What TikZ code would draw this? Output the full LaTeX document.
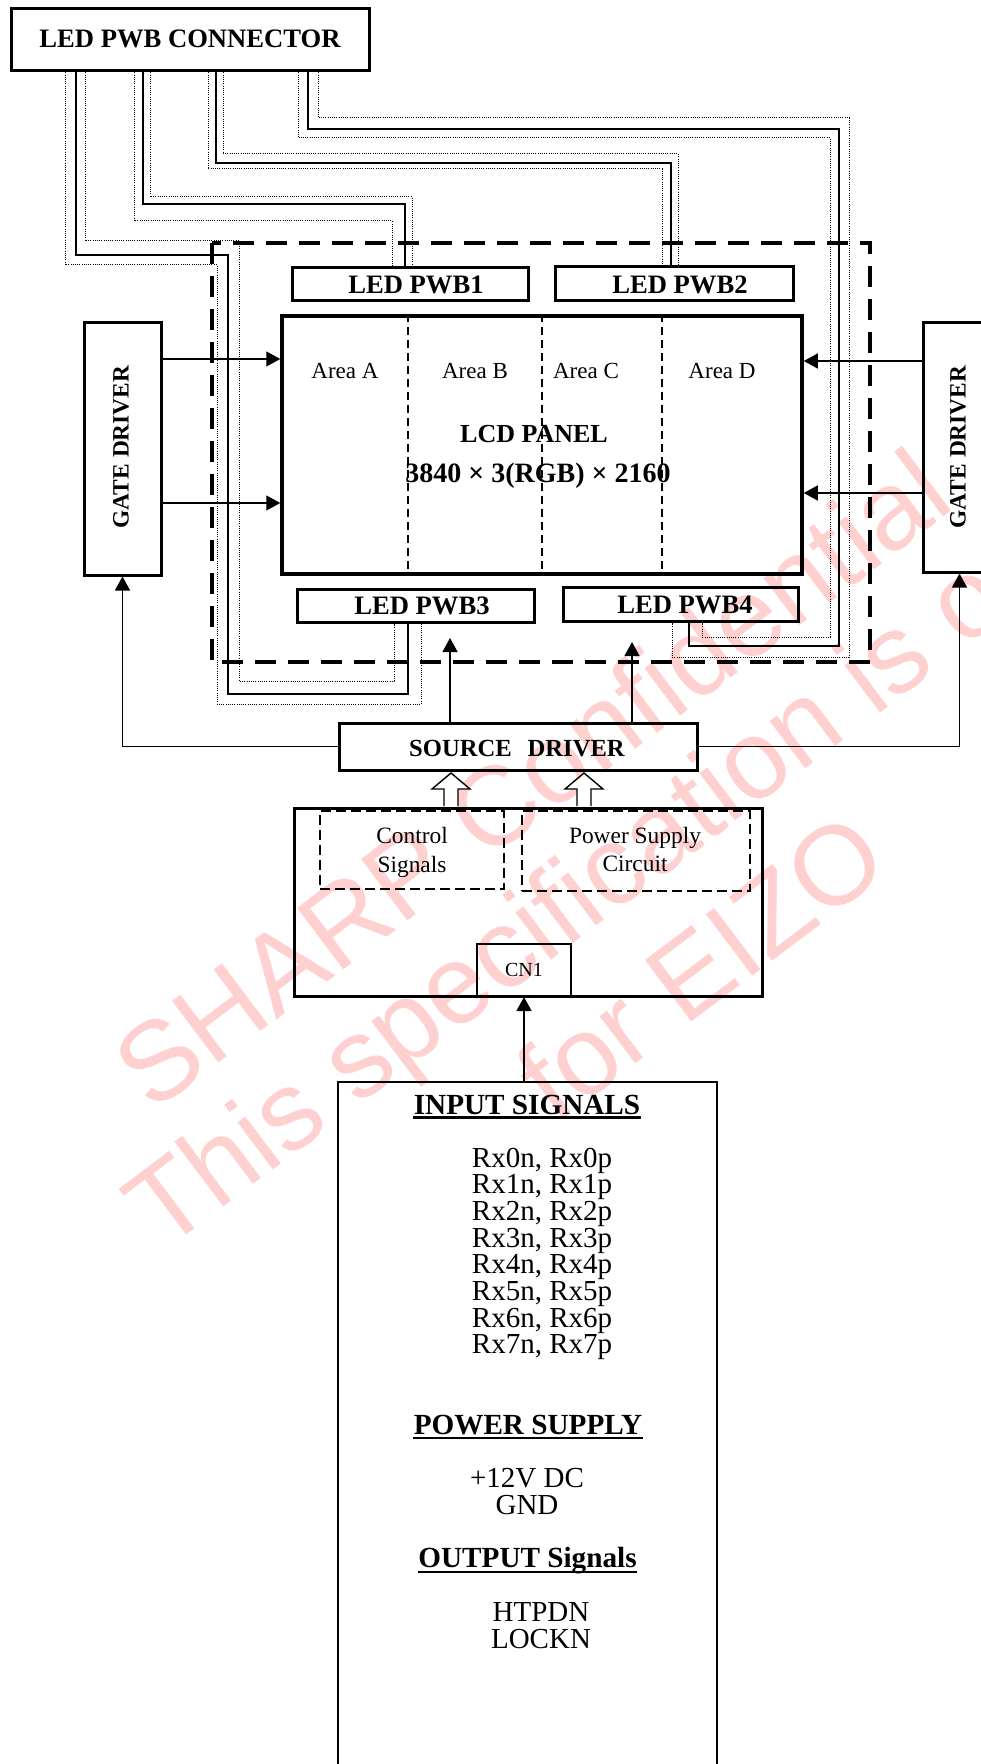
\documentclass[tikz,border=0pt]{standalone}
\usepackage{fontspec}
\setmainfont{Liberation Serif}
\newfontfamily\wmfont{Liberation Sans}
\usetikzlibrary{fit,arrows.meta}
\definecolor{wmcol}{RGB}{255,208,208}
\newcommand\fsz[1]{\fontsize{#1}{#1}\selectfont}
\begin{document}
\begin{tikzpicture}[x=0.5pt,y=-0.5pt,
  tbox/.style={draw,line width=1.5pt,inner sep=0pt},
  lbl/.style={inner sep=0pt,anchor=base},
  blbl/.style={inner sep=0pt,anchor=base,font=\fsz{13.3}\bfseries},
  arealbl/.style={inner sep=0pt,anchor=base,font=\fsz{11.5}},
  wire/.style={line width=0.65pt},
  dotw/.style={line width=0.5pt,dash pattern=on 0.5pt off 0.6pt},
  arr/.style={line width=0.65pt,-{Triangle[length=7pt,width=7.5pt]}},
  bigdash/.style={line width=2pt,dash pattern=on 10.5pt off 6pt},
  divd/.style={line width=0.65pt,dash pattern=on 4pt off 2.5pt},
  subd/.style={line width=1.2pt,dash pattern=on 5pt off 2.5pt},
  hollow/.style={line width=0.7pt,fill=white},
  wm/.style={inner sep=0pt,anchor=base west,rotate=37,text=wmcol,font=\wmfont\fsz{56}}
]
\useasboundingbox (0,0) rectangle (980,1764);

% watermark
\node[wm] (wm1) at (152,1114) {SHARP Confidential};
\node[wm] (wm2) at (163,1253) {This specification is only};
\node[wm] (wm3) at (555,1125) {for EIZO};

% connector
\node[tbox,fit={(11,9) (369,71)}] (conn) {};
\node[blbl] (conntxt) at (190,48) {LED PWB CONNECTOR};

% dashed module outline
\draw[bigdash] (212,243) rectangle (870,662);

% LED PWBs
\node[tbox,fit={(292,268) (528,301)}] (pwb1) {};
\node[blbl] (pwb1t) at (416,294) {LED PWB1};
\node[tbox,fit={(555,267) (793,301)}] (pwb2) {};
\node[blbl] (pwb2t) at (680,294) {LED PWB2};
\node[tbox,fit={(297,589) (534,622)}] (pwb3) {};
\node[blbl] (pwb3t) at (422,614) {LED PWB3};
\node[tbox,fit={(563,587) (798,621)}] (pwb4) {};
\node[blbl] (pwb4t) at (685,613) {LED PWB4};

% wires: group 1 -> PWB3
\draw[dotw] (conn.south -| 65,0) -- (65,265) -- (217,265) -- (217,704) -- (421,704) -- (pwb3.south -| 421,0);
\draw[wire] (conn.south -| 76,0) -- (76,255) -- (228,255) -- (228,694) -- (408,694) -- (pwb3.south -| 408,0);
\draw[dotw] (conn.south -| 85,0) -- (85,241) -- (239,241) -- (239,681) -- (394,681) -- (pwb3.south -| 394,0);
% group 2 -> PWB1
\draw[dotw] (conn.south -| 134,0) -- (134,221) -- (392,221) -- (pwb1.north -| 392,0);
\draw[wire] (conn.south -| 143,0) -- (143,204) -- (405,204) -- (pwb1.north -| 405,0);
\draw[dotw] (conn.south -| 150,0) -- (150,197) -- (412,197) -- (pwb1.north -| 412,0);
% group 3 -> PWB2
\draw[dotw] (conn.south -| 208,0) -- (208,169) -- (662,169) -- (pwb2.north -| 662,0);
\draw[wire] (conn.south -| 216,0) -- (216,163) -- (671,163) -- (pwb2.north -| 671,0);
\draw[dotw] (conn.south -| 223,0) -- (223,154) -- (678,154) -- (pwb2.north -| 678,0);
% group 4 -> PWB4
\draw[dotw] (conn.south -| 298,0) -- (298,138) -- (830,138) -- (830,637) -- (702,637) -- (pwb4.south -| 702,0);
\draw[wire] (conn.south -| 308,0) -- (308,129) -- (839,129) -- (839,646) -- (689,646) -- (pwb4.south -| 689,0);
\draw[dotw] (conn.south -| 318,0) -- (318,118) -- (849,118) -- (849,657) -- (672,657) -- (pwb4.south -| 672,0);

% LCD panel
\node[draw,line width=1.75pt,inner sep=0pt,fit={(282,316) (802,574)}] (panel) {};
\foreach \xx in {408,542,662} \draw[divd] (panel.north -| \xx,0) -- (panel.south -| \xx,0);
\node[arealbl] (areaA) at (345,379) {Area A};
\node[arealbl] (areaB) at (475,379) {Area B};
\node[arealbl] (areaC) at (586,379) {Area C};
\node[arealbl] (areaD) at (722,379) {Area D};
\node[lbl,font=\fsz{13}\bfseries] (lcd1) at (534,443) {LCD PANEL};
\node[lbl,font=\fsz{14}\bfseries] (lcd2) at (538,483) {3840 × 3(RGB) × 2160};

% gate drivers
\node[tbox,fit={(84,323) (161,575)}] (gdl) {};
\node[inner sep=0pt,rotate=90,font=\fsz{11.7}\bfseries] (gdlt) at (121,447) {GATE DRIVER};
\node[tbox,fit={(923,323) (996,572)}] (gdr) {};
\node[inner sep=0pt,rotate=90,font=\fsz{11.7}\bfseries] (gdrt) at (958,447) {GATE DRIVER};
\draw[arr] (gdl.east |- 0,359) -- (panel.west |- 0,359);
\draw[arr] (gdl.east |- 0,503) -- (panel.west |- 0,503);
\draw[arr] (gdr.west |- 0,361) -- (panel.east |- 0,361);
\draw[arr] (gdr.west |- 0,493) -- (panel.east |- 0,493);

% source driver
\node[tbox,fit={(339,723) (697,770)}] (src) {};
\node[lbl,font=\fsz{12.3}\bfseries] (srct) at (517,756) {SOURCE\hspace{8pt}DRIVER};
\coordinate (s1) at (450,638);
\coordinate (s2) at (632,642);
\draw[arr] (src.north -| s1) -- (s1);
\draw[arr] (src.north -| s2) -- (s2);
\draw[arr] (src.west) -| (gdl.south);
\draw[arr] (src.east) -| (gdr.south);

% control board
\node[tbox,fit={(294,808) (762,996)}] (ctrl) {};
\node[draw,subd,inner sep=0pt,fit={(320,811) (504,889)}] (cs) {};
\node[draw,subd,inner sep=0pt,fit={(522,811) (750,891)}] (ps) {};
\node[lbl,font=\fsz{11.7}] (cst1) at (412,843) {Control};
\node[lbl,font=\fsz{11.7}] (cst2) at (412,872) {Signals};
\node[lbl,font=\fsz{11.7}] (pst1) at (635,843) {Power Supply};
\node[lbl,font=\fsz{11.7}] (pst2) at (635,871) {Circuit};
\foreach \cx in {451,584}
  \draw[hollow] (\cx-7,806) -- (\cx-7,789) -- (\cx-19,789) -- (\cx,773) -- (\cx+19,789) -- (\cx+7,789) -- (\cx+7,806);
\node[draw,line width=1pt,inner sep=0pt,fit={(477,944) (571,996)}] (cn1) {};
\node[lbl,font=\fsz{10}] (cn1t) at (524,976) {CN1};

% input box
\node[draw,line width=0.8pt,inner sep=0pt,fit={(338,1082) (717,1790)}] (inp) {};
\draw[arr] (cn1.south |- inp.north) -- (cn1.south);
\node[lbl,font=\fsz{14.6}\bfseries] (h1) at (527,1114) {INPUT SIGNALS};
\draw[line width=1.3pt] ([yshift=-1.6pt]h1.base west) -- ([yshift=-1.6pt]h1.base east);
\foreach \i in {0,...,7}
  \node[lbl,font=\fsz{14.5}] (rx\i) at (542,1167+26.7*\i) {Rx\i n, Rx\i p};
\node[lbl,font=\fsz{14.6}\bfseries] (h2) at (528,1434) {POWER SUPPLY};
\draw[line width=1.3pt] ([yshift=-2pt]h2.base west) -- ([yshift=-2pt]h2.base east);
\node[lbl,font=\fsz{14.5}] (v12) at (527,1487) {+12V DC};
\node[lbl,font=\fsz{14.5}] (gnd) at (527,1514) {GND};
\node[lbl,font=\fsz{14.6}\bfseries] (h3) at (527.5,1567) {OUTPUT Signals};
\draw[line width=1.3pt] ([yshift=-2.5pt]h3.base west) -- ([yshift=-2.5pt]h3.base east);
\node[lbl,font=\fsz{14.5}] (htp) at (541,1621) {HTPDN};
\node[lbl,font=\fsz{14.5}] (lck) at (541,1648) {LOCKN};
\end{tikzpicture}
\end{document}
